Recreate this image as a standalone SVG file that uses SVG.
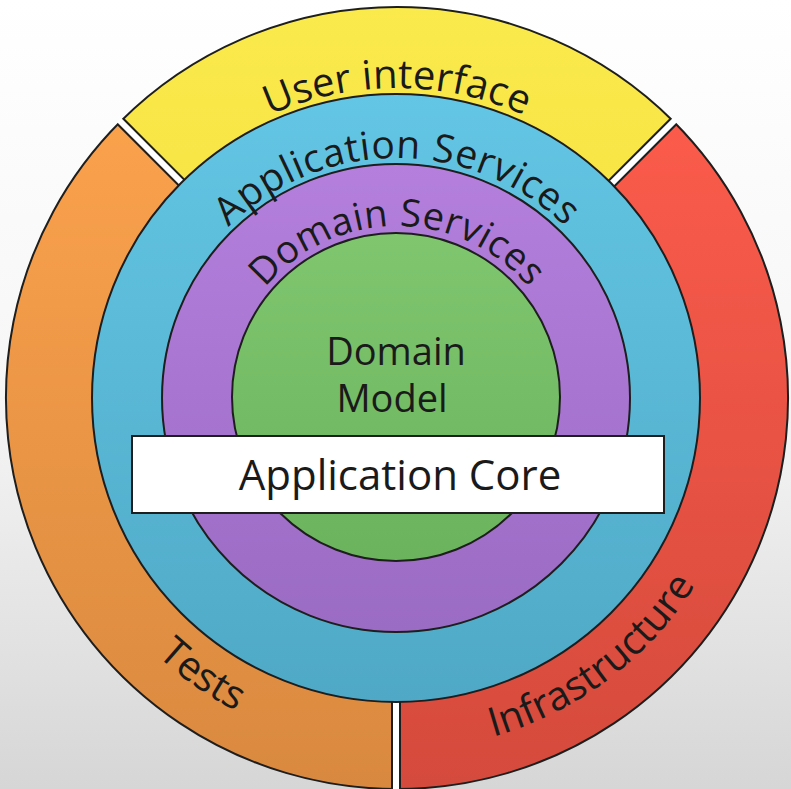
<svg xmlns="http://www.w3.org/2000/svg" width="791" height="789" viewBox="0 0 791 789">
<defs>
<linearGradient id="bg" x1="0" y1="0" x2="0" y2="1"><stop offset="0" stop-color="#ffffff"/><stop offset="0.5" stop-color="#f6f6f6"/><stop offset="1" stop-color="#d6d6d6"/></linearGradient>
<linearGradient id="gy" x1="0" y1="0" x2="0" y2="1"><stop offset="0" stop-color="#FBEA4C"/><stop offset="1" stop-color="#F3DE3E"/></linearGradient>
<linearGradient id="go" x1="0" y1="0" x2="0" y2="1"><stop offset="0" stop-color="#FAA14C"/><stop offset="1" stop-color="#D9893F"/></linearGradient>
<linearGradient id="gr" x1="0" y1="0" x2="0" y2="1"><stop offset="0" stop-color="#FB5B4B"/><stop offset="1" stop-color="#D44A3C"/></linearGradient>
<linearGradient id="gb" x1="0" y1="0" x2="0" y2="1"><stop offset="0" stop-color="#63C6E4"/><stop offset="1" stop-color="#4FA9C6"/></linearGradient>
<linearGradient id="gp" x1="0" y1="0" x2="0" y2="1"><stop offset="0" stop-color="#B47FDD"/><stop offset="1" stop-color="#9B6CC4"/></linearGradient>
<linearGradient id="gg" x1="0" y1="0" x2="0" y2="1"><stop offset="0" stop-color="#7FC66F"/><stop offset="1" stop-color="#6CB35E"/></linearGradient>
<path id="pUI" d="M 87 398 A 310 310 0 0 1 707 398"/>
<path id="pAS" d="M 157 398 A 240 240 0 0 1 637 398"/>
<path id="pDS" d="M 225 398 A 172 172 0 0 1 569 398"/>
<path id="pBot" d="M 45 398 A 352 352 0 0 0 749 398"/>
</defs>
<style>
.ln{stroke:#1e1e1e;stroke-width:2}
.t{font-family:"Open Sans","Liberation Sans",sans-serif;fill:#1a1a1a}
</style>
<rect width="791" height="789" fill="url(#bg)"/>
<g id="outer-ring">
<path id="ui" class="ln" fill="url(#gy)" d="M 397 398 L 120.5 121.5 A 391 391 0 0 1 673.5 121.5 Z"/>
<path id="infra" class="ln" fill="url(#gr)" d="M 397 398 L 673.5 121.5 A 391 391 0 0 1 397 789 Z"/>
<path id="tests" class="ln" fill="url(#go)" d="M 397 398 L 397 789 A 391 391 0 0 1 120.5 121.5 Z"/>
<g stroke-linecap="butt">
<line x1="397" y1="398" x2="120.5" y2="121.5" stroke="#1e1e1e" stroke-width="10"/>
<line x1="397" y1="398" x2="119" y2="120" stroke="#ffffff" stroke-width="6"/>
<line x1="397" y1="398" x2="673.5" y2="121.5" stroke="#1e1e1e" stroke-width="10"/>
<line x1="397" y1="398" x2="675" y2="120" stroke="#ffffff" stroke-width="6"/>
<line x1="396" y1="398" x2="396" y2="795" stroke="#1e1e1e" stroke-width="10"/>
<line x1="396" y1="398" x2="396" y2="795" stroke="#ffffff" stroke-width="6"/>
</g>
</g>
<g id="app-services"><circle class="ln" cx="396" cy="398" r="304" fill="url(#gb)"/></g>
<g id="domain-services"><circle class="ln" cx="396" cy="398" r="234" fill="url(#gp)"/></g>
<g id="domain-model"><circle class="ln" cx="396" cy="397" r="164" fill="url(#gg)"/>
<text class="t" x="396" y="365" font-size="38" text-anchor="middle">Domain</text>
<text class="t" x="392" y="412" font-size="38" text-anchor="middle">Model</text></g>
<g id="labels">
<text class="t" font-size="40"><textPath href="#pUI" startOffset="50%" text-anchor="middle">User interface</textPath></text>
<text class="t" font-size="39" letter-spacing="0.6"><textPath href="#pAS" startOffset="50%" text-anchor="middle">Application Services</textPath></text>
<text class="t" font-size="38" letter-spacing="0.5"><textPath href="#pDS" startOffset="50%" text-anchor="middle">Domain Services</textPath></text>
<text class="t" font-size="40"><textPath href="#pBot" startOffset="30.5%" text-anchor="middle">Tests</textPath></text>
<text class="t" font-size="40"><textPath href="#pBot" startOffset="70.5%" text-anchor="middle">Infrastructure</textPath></text>
</g>
<g id="app-core"><rect x="132" y="436" width="532" height="77" fill="#ffffff" stroke="#1e1e1e" stroke-width="2"/>
<text class="t" x="400" y="490" font-size="42" text-anchor="middle">Application Core</text></g>
</svg>
